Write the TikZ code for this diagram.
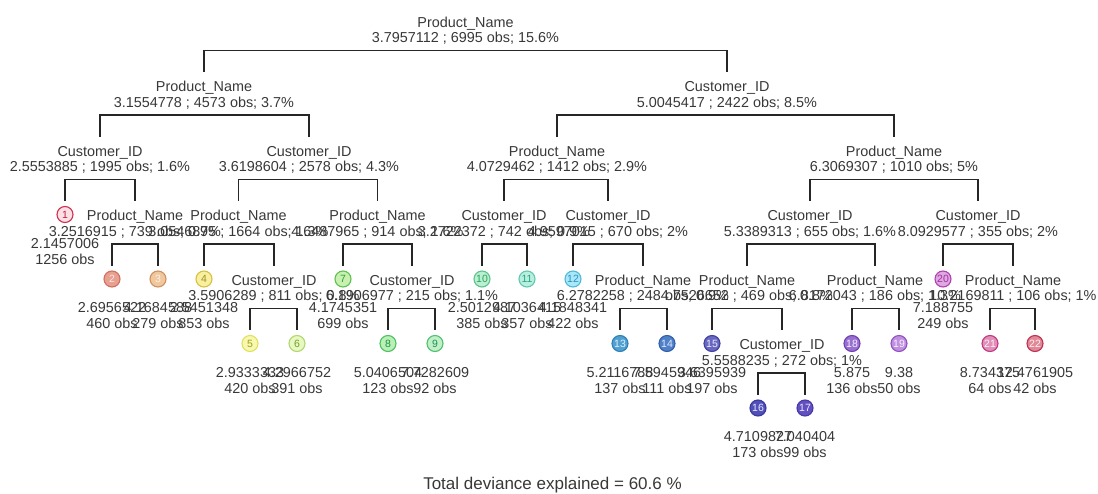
\documentclass[tikz,border=0pt]{standalone}
\usepackage{fontspec}
\setmainfont{Liberation Sans}
\usetikzlibrary{calc}

% leaf palette: ring, fill, number
\definecolor{ra}{HTML}{D03050}\definecolor{fa}{HTML}{FBE0E6}\definecolor{ta}{HTML}{C02040}
\definecolor{rb}{HTML}{D07060}\definecolor{fb}{HTML}{E8A090}\definecolor{tb}{HTML}{FBE8E0}
\definecolor{rc}{HTML}{D09060}\definecolor{fc}{HTML}{F0C8A0}\definecolor{tc}{HTML}{FFF0E0}
\definecolor{rd}{HTML}{D8C040}\definecolor{fd}{HTML}{F8F0A0}\definecolor{td}{HTML}{A09020}
\definecolor{re}{HTML}{E0E060}\definecolor{fe}{HTML}{F8F8B0}\definecolor{te}{HTML}{A0A020}
\definecolor{rf}{HTML}{B0D870}\definecolor{ff}{HTML}{E8F8C0}\definecolor{tf}{HTML}{70A030}
\definecolor{rg}{HTML}{60C050}\definecolor{fg}{HTML}{C8F0B0}\definecolor{tg}{HTML}{30A030}
\definecolor{rh}{HTML}{50C060}\definecolor{fh}{HTML}{B8F0B8}\definecolor{th}{HTML}{209040}
\definecolor{ri}{HTML}{50C070}\definecolor{fi}{HTML}{C0F0C8}\definecolor{ti}{HTML}{209050}
\definecolor{rj}{HTML}{60C090}\definecolor{fj}{HTML}{B8F0D0}\definecolor{tj}{HTML}{30A060}
\definecolor{rk}{HTML}{60C8B0}\definecolor{fk}{HTML}{B8F0E0}\definecolor{tk}{HTML}{30A080}
\definecolor{rl}{HTML}{50B8D8}\definecolor{fl}{HTML}{A8E8F8}\definecolor{tl}{HTML}{3090C0}
\definecolor{rm}{HTML}{3080B8}\definecolor{fm}{HTML}{50A0D0}\definecolor{tm}{HTML}{E0F0FF}
\definecolor{rn}{HTML}{3060A8}\definecolor{fn}{HTML}{5080C8}\definecolor{tn}{HTML}{E0E8FF}
\definecolor{ro}{HTML}{4040A0}\definecolor{fo}{HTML}{6868C0}\definecolor{to}{HTML}{E8E8FF}
\definecolor{rp}{HTML}{3838A0}\definecolor{fp}{HTML}{5050B8}\definecolor{tp}{HTML}{E8E8FF}
\definecolor{rq}{HTML}{4838A8}\definecolor{fq}{HTML}{6050C0}\definecolor{tq}{HTML}{F0E8FF}
\definecolor{rr}{HTML}{7040B0}\definecolor{fr}{HTML}{9870D0}\definecolor{tr}{HTML}{F8F0FF}
\definecolor{rs}{HTML}{9050C0}\definecolor{fs}{HTML}{C090E0}\definecolor{ts}{HTML}{F8F0FF}
\definecolor{rt}{HTML}{B040B0}\definecolor{ft}{HTML}{E0A8E0}\definecolor{tt}{HTML}{A030A0}
\definecolor{ru}{HTML}{C03880}\definecolor{fu}{HTML}{E090B8}\definecolor{tu}{HTML}{FFF0F8}
\definecolor{rv}{HTML}{C03050}\definecolor{fv}{HTML}{E08898}\definecolor{tv}{HTML}{FFF0F0}

% split: id, x, y, variable, summary
\newcommand\treesplit[5]{%
  \coordinate (#1-top) at (#2,#3-14.5);
  \coordinate (#1-bar) at (#2,#3+28.5);
  \node[lbl] (#1) at (#2,#3+5) {#4};
  \node[lbl] (#1-stats) at (#2,#3+20.5) {#5};
}
% leaf: id, x, y, number, colour key, mean, count
\newcommand\treeleaf[7]{%
  \coordinate (#1-top) at (#2,#3-14.5);
  \node[leafdot, draw=r#5, fill=f#5, text=t#5] (#1) at (#2,#3-1) {#4};
  \node[lbl] (#1-val) at (#2,#3+32.5) {#6};
  \node[lbl] (#1-obs) at (#2,#3+48.5) {#7};
}
% connector from a split to its two children
\newcommand\treejoin[3]{%
  \draw[edge] (#2-top) |- (#1-bar) -| (#3-top);
}

\begin{document}
\begin{tikzpicture}[x=1pt,y=-1pt,
  lbl/.style={inner sep=0pt, anchor=base, font=\fontsize{14.4}{15}\selectfont, text=black!78},
  leafdot/.style={circle, line width=1.1pt, minimum size=16pt, inner sep=0pt,
    font=\fontsize{10.5}{11}\selectfont},
  edge/.style={draw=black!85, line width=1.6pt}]
\useasboundingbox (0,0) rectangle (1098,493);

% depth 0
\treesplit{n}{465.5}{22}{Product\_Name}{3.7957112 ; 6995 obs; 15.6\%}
% depth 1
\treesplit{nL}{204}{86.5}{Product\_Name}{3.1554778 ; 4573 obs; 3.7\%}
\treesplit{nR}{727}{86.5}{Customer\_ID}{5.0045417 ; 2422 obs; 8.5\%}
% depth 2
\treesplit{nLL}{100}{151}{Customer\_ID}{2.5553885 ; 1995 obs; 1.6\%}
\treesplit{nLR}{309}{151}{Customer\_ID}{3.6198604 ; 2578 obs; 4.3\%}
\treesplit{nRL}{557}{151}{Product\_Name}{4.0729462 ; 1412 obs; 2.9\%}
\treesplit{nRR}{894}{151}{Product\_Name}{6.3069307 ; 1010 obs; 5\%}
% depth 3
\treeleaf{k1}{65}{215.5}{1}{a}{2.1457006}{1256 obs}
\treesplit{nLLR}{135}{215.5}{Product\_Name}{3.2516915 ; 739 obs; 0.9\%}
\treesplit{nLRL}{238.5}{215.5}{Product\_Name}{3.0546875 ; 1664 obs; 1.3\%}
\treesplit{nLRR}{377.5}{215.5}{Product\_Name}{4.6487965 ; 914 obs; 1.6\%}
\treesplit{nRLL}{504}{215.5}{Customer\_ID}{3.2722372 ; 742 obs; 0.9\%}
\treesplit{nRLR}{608}{215.5}{Customer\_ID}{4.9597015 ; 670 obs; 2\%}
\treesplit{nRRL}{810}{215.5}{Customer\_ID}{5.3389313 ; 655 obs; 1.6\%}
\treesplit{nRRR}{978}{215.5}{Customer\_ID}{8.0929577 ; 355 obs; 2\%}
% depth 4
\treeleaf{k2}{112}{280}{2}{b}{2.6956522}{460 obs}
\treeleaf{k3}{158}{280}{3}{c}{4.1684588}{279 obs}
\treeleaf{k4}{204}{280}{4}{d}{2.5451348}{853 obs}
\treesplit{nLRLR}{274}{280}{Customer\_ID}{3.5906289 ; 811 obs; 0.8\%}
\treeleaf{k7}{343}{280}{7}{g}{4.1745351}{699 obs}
\treesplit{nLRRR}{412}{280}{Customer\_ID}{6.1906977 ; 215 obs; 1.1\%}
\treeleaf{k10}{482}{280}{10}{j}{2.5012987}{385 obs}
\treeleaf{k11}{527}{280}{11}{k}{4.1036415}{357 obs}
\treeleaf{k12}{573}{280}{12}{l}{4.1848341}{422 obs}
\treesplit{nRLRR}{643}{280}{Product\_Name}{6.2782258 ; 248 obs; 0.9\%}
\treesplit{nRRLL}{747}{280}{Product\_Name}{4.7526652 ; 469 obs; 0.8\%}
\treesplit{nRRLR}{875}{280}{Product\_Name}{6.8172043 ; 186 obs; 1.3\%}
\treeleaf{k20}{943}{280}{20}{t}{7.188755}{249 obs}
\treesplit{nRRRR}{1013}{280}{Product\_Name}{10.2169811 ; 106 obs; 1\%}
% depth 5
\treeleaf{k5}{250}{344.5}{5}{e}{2.9333333}{420 obs}
\treeleaf{k6}{297}{344.5}{6}{f}{4.2966752}{391 obs}
\treeleaf{k8}{388}{344.5}{8}{h}{5.0406504}{123 obs}
\treeleaf{k9}{435}{344.5}{9}{i}{7.7282609}{92 obs}
\treeleaf{k13}{620}{344.5}{13}{m}{5.2116788}{137 obs}
\treeleaf{k14}{667}{344.5}{14}{n}{7.5945946}{111 obs}
\treeleaf{k15}{712}{344.5}{15}{o}{3.6395939}{197 obs}
\treesplit{nRRLLR}{782}{344.5}{Customer\_ID}{5.5588235 ; 272 obs; 1\%}
\treeleaf{k18}{852}{344.5}{18}{r}{5.875}{136 obs}
\treeleaf{k19}{899}{344.5}{19}{s}{9.38}{50 obs}
\treeleaf{k21}{990}{344.5}{21}{u}{8.734375}{64 obs}
\treeleaf{k22}{1035}{344.5}{22}{v}{12.4761905}{42 obs}
% depth 6
\treeleaf{k16}{758}{409}{16}{p}{4.7109827}{173 obs}
\treeleaf{k17}{805}{409}{17}{q}{7.040404}{99 obs}

% branches
\treejoin{n}{nL}{nR}
\treejoin{nL}{nLL}{nLR}
\treejoin{nR}{nRL}{nRR}
\treejoin{nLL}{k1}{nLLR}
\treejoin{nLLR}{k2}{k3}
\treejoin{nLR}{nLRL}{nLRR}
\treejoin{nLRL}{k4}{nLRLR}
\treejoin{nLRLR}{k5}{k6}
\treejoin{nLRR}{k7}{nLRRR}
\treejoin{nLRRR}{k8}{k9}
\treejoin{nRL}{nRLL}{nRLR}
\treejoin{nRLL}{k10}{k11}
\treejoin{nRLR}{k12}{nRLRR}
\treejoin{nRLRR}{k13}{k14}
\treejoin{nRR}{nRRL}{nRRR}
\treejoin{nRRL}{nRRLL}{nRRLR}
\treejoin{nRRLL}{k15}{nRRLLR}
\treejoin{nRRLLR}{k16}{k17}
\treejoin{nRRLR}{k18}{k19}
\treejoin{nRRR}{k20}{nRRRR}
\treejoin{nRRRR}{k21}{k22}

\node[lbl, font=\fontsize{17}{18}\selectfont] (caption) at (552.5,489)
  {Total deviance explained = 60.6 \%};
\end{tikzpicture}
\end{document}
